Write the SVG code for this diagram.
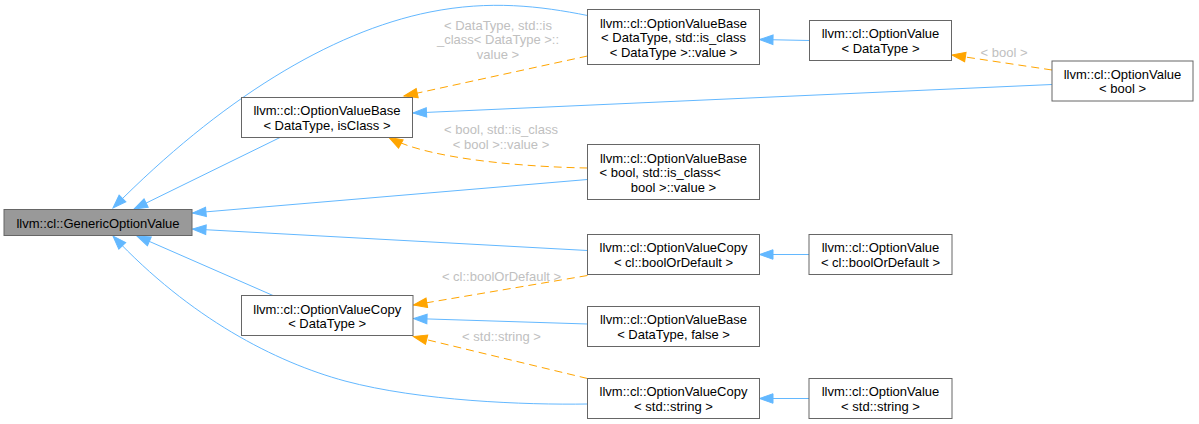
<svg xmlns="http://www.w3.org/2000/svg" width="1199" height="424" viewBox="0 0 1199 424">
<style>
.n rect{fill:#ffffff;stroke:#666666;stroke-width:1}
.root rect{fill:#999999}
text{font-family:"Liberation Sans",Arial,sans-serif;font-size:13px;fill:#000000}
.n text{text-anchor:middle}
.lbl{fill:#c0c0c0;text-anchor:middle}
.b{fill:none;stroke:#63b8ff;stroke-width:1;marker-end:url(#ab)}
.o{fill:none;stroke:#ffa500;stroke-width:1;stroke-dasharray:8,5;marker-end:url(#ao)}
</style>
<defs>
<marker id="ab" markerUnits="userSpaceOnUse" markerWidth="14" markerHeight="10" viewBox="0 0 14 10" refX="13.5" refY="5" orient="auto" overflow="visible"><path d="M0,0.25 L13.5,5 L0,9.75 z" fill="#63b8ff" stroke="#63b8ff"/></marker>
<marker id="ao" markerUnits="userSpaceOnUse" markerWidth="14" markerHeight="10" viewBox="0 0 14 10" refX="13.5" refY="5" orient="auto" overflow="visible"><path d="M0,0.25 L13.5,5 L0,9.75 z" fill="#ffa500" stroke="#ffa500"/></marker>
</defs>
<rect width="1199" height="424" fill="#ffffff"/>
<g id="edges">
<path class="b" d="M587.5,15.5 C540,6 490,0 430,12 C330,32 220,100 113,208"/>
<path class="b" d="M280,137.5 L134,209"/>
<path class="b" d="M587.5,179.5 L192.5,213"/>
<path class="b" d="M587.5,250.5 L192.5,229"/>
<path class="b" d="M273,295.5 L137,236"/>
<path class="b" d="M587.5,404 C525,405 420,401 345,381 C275,362 190,318 113,236"/>
<path class="o" d="M587.5,56 L404,96"/>
<text class="lbl" x="498" y="29.5">&lt; DataType, std::is</text>
<text class="lbl" x="498" y="44">_class&lt; DataType &gt;::</text>
<text class="lbl" x="498" y="58.5">value &gt;</text>
<path class="o" d="M587.5,168 C530,167 430,160 389,137.5"/>
<text class="lbl" x="501" y="134">&lt; bool, std::is_class</text>
<text class="lbl" x="501" y="148.5">&lt; bool &gt;::value &gt;</text>
<path class="b" d="M809.5,40.5 L759.5,39.5"/>
<path class="o" d="M1052,70 L952,55"/>
<text class="lbl" x="1004" y="56.5">&lt; bool &gt;</text>
<path class="b" d="M1052,84.5 L413,113"/>
<path class="b" d="M809,254.5 L759.5,254.5"/>
<path class="o" d="M587.5,275.5 L413.5,305"/>
<text class="lbl" x="501.5" y="280.5">&lt; cl::boolOrDefault &gt;</text>
<path class="b" d="M587.5,324 L413.5,318.5"/>
<path class="o" d="M587.5,378.5 L413.5,336.5"/>
<text class="lbl" x="501.5" y="340.5">&lt; std::string &gt;</text>
<path class="b" d="M809,398.5 L759.5,398.5"/>
</g>
<g id="GenericOptionValue" class="n root">
<rect x="4" y="209.5" width="188" height="26"/>
<text x="98" y="227.5">llvm::cl::GenericOptionValue</text>
</g>
<g id="OptionValueBase_isClass" class="n">
<rect x="241.5" y="97.5" width="171" height="40"/>
<text x="327" y="115">llvm::cl::OptionValueBase</text>
<text x="327" y="129.5">&lt; DataType, isClass &gt;</text>
</g>
<g id="OptionValueCopy_DataType" class="n">
<rect x="241.5" y="295.5" width="171.5" height="40"/>
<text x="327.2" y="313.5">llvm::cl::OptionValueCopy</text>
<text x="327.2" y="328">&lt; DataType &gt;</text>
</g>
<g id="OptionValueBase_is_class_DataType" class="n">
<rect x="587.5" y="9.5" width="172" height="55"/>
<text x="673.5" y="27.5">llvm::cl::OptionValueBase</text>
<text x="673.5" y="42">&lt; DataType, std::is_class</text>
<text x="673.5" y="56.5">&lt; DataType &gt;::value &gt;</text>
</g>
<g id="OptionValueBase_bool" class="n">
<rect x="587.5" y="144.5" width="172" height="55"/>
<text x="673.5" y="162.5">llvm::cl::OptionValueBase</text>
<text x="599.5" y="177" style="text-anchor:start">&lt; bool, std::is_class&lt;</text>
<text x="673.5" y="191.5">bool &gt;::value &gt;</text>
</g>
<g id="OptionValueCopy_boolOrDefault" class="n">
<rect x="587.5" y="234.5" width="172" height="40"/>
<text x="673.5" y="252">llvm::cl::OptionValueCopy</text>
<text x="673.5" y="266.5">&lt; cl::boolOrDefault &gt;</text>
</g>
<g id="OptionValueBase_false" class="n">
<rect x="587.5" y="306.5" width="172" height="40"/>
<text x="673.5" y="324">llvm::cl::OptionValueBase</text>
<text x="673.5" y="338.5">&lt; DataType, false &gt;</text>
</g>
<g id="OptionValueCopy_string" class="n">
<rect x="587.5" y="378.5" width="172" height="40"/>
<text x="673.5" y="396">llvm::cl::OptionValueCopy</text>
<text x="673.5" y="410.5">&lt; std::string &gt;</text>
</g>
<g id="OptionValue_DataType" class="n">
<rect x="809.5" y="20.5" width="142" height="40"/>
<text x="880.5" y="38">llvm::cl::OptionValue</text>
<text x="880.5" y="52.5">&lt; DataType &gt;</text>
</g>
<g id="OptionValue_bool" class="n">
<rect x="1052" y="61" width="141" height="40"/>
<text x="1122.5" y="78.5">llvm::cl::OptionValue</text>
<text x="1122.5" y="93">&lt; bool &gt;</text>
</g>
<g id="OptionValue_boolOrDefault" class="n">
<rect x="809" y="234.5" width="143" height="40"/>
<text x="880.5" y="252">llvm::cl::OptionValue</text>
<text x="880.5" y="266.5">&lt; cl::boolOrDefault &gt;</text>
</g>
<g id="OptionValue_string" class="n">
<rect x="809" y="378.5" width="143" height="40"/>
<text x="880.5" y="396">llvm::cl::OptionValue</text>
<text x="880.5" y="410.5">&lt; std::string &gt;</text>
</g>
</svg>
